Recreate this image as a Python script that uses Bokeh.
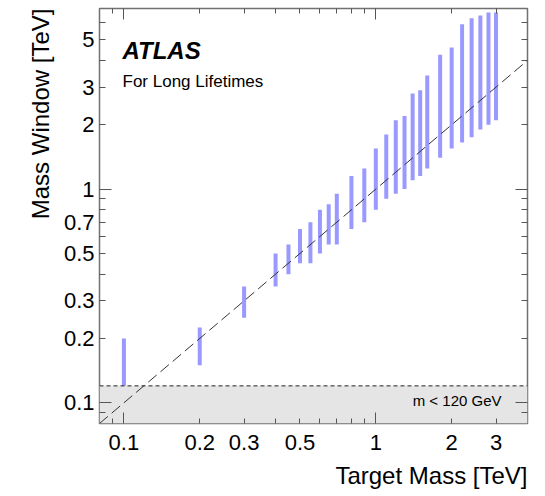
from bokeh.plotting import figure
from bokeh.models import (LogAxis, FixedTicker, CustomJSTickFormatter, Title, Label,
                          Span, BoxAnnotation, ColumnDataSource)
from bokeh.embed import file_html
from bokeh.resources import INLINE

# ---- data (TeV) ----
target_mass = [0.1, 0.2, 0.3, 0.4, 0.45, 0.5, 0.55, 0.6, 0.65, 0.7, 0.8, 0.9, 1.0,
               1.1, 1.2, 1.3, 1.4, 1.5, 1.6, 1.8, 2.0, 2.2, 2.4, 2.6, 2.8, 3.0]
window_low = [0.12, 0.15, 0.25, 0.35, 0.40, 0.45, 0.45, 0.50, 0.55, 0.55, 0.65, 0.70, 0.80,
              0.90, 0.95, 1.00, 1.10, 1.15, 1.25, 1.40, 1.55, 1.65, 1.75, 1.90, 2.00, 2.10]
window_high = [0.20, 0.225, 0.35, 0.50, 0.55, 0.65, 0.70, 0.80, 0.85, 0.95, 1.15, 1.25, 1.55,
               1.80, 2.10, 2.20, 2.80, 2.90, 3.40, 4.25, 4.60, 5.90, 6.30, 6.50, 6.70, 6.70]
diagonal = [0.08, 4.0]          # y = x reference line
low_mass_cut = 0.12             # m < 120 GeV

x_range = (0.08, 4.0)
y_range = (0.08, 7.0)

x_major = [0.1, 1.0]
x_minor = [0.09, 0.2, 0.3, 0.4, 0.5, 0.6, 0.7, 0.8, 0.9, 2.0, 3.0]
x_tick_labels = [0.1, 0.2, 0.3, 0.5, 1, 2, 3]
y_major = [0.1, 1.0]
y_minor = [0.09, 0.2, 0.3, 0.4, 0.5, 0.6, 0.7, 0.8, 0.9, 2.0, 3.0, 4.0, 5.0, 6.0]
y_tick_labels = [0.1, 0.2, 0.3, 0.5, 0.7, 1, 2, 3, 5]

FONT = "Liberation Sans"
TICK_COLOR = "#555555"

p = figure(width=545, height=496, x_axis_type="log", y_axis_type="log",
           x_range=x_range, y_range=y_range, x_axis_location=None, y_axis_location=None,
           output_backend="svg", toolbar_location=None,
           min_border_left=99, min_border_right=18, min_border_top=8, min_border_bottom=73)
p.grid.visible = False
p.outline_line_color = "#707070"
p.outline_line_width = 1.5
p.background_fill_color = "white"
p.border_fill_color = "white"


def tick_axis(major, minor, maj_len, min_len):
    return LogAxis(ticker=FixedTicker(ticks=major, minor_ticks=minor),
                   formatter=CustomJSTickFormatter(code="return ''"),
                   major_tick_in=maj_len, major_tick_out=0,
                   minor_tick_in=min_len, minor_tick_out=0,
                   axis_line_color=None,
                   major_tick_line_color=TICK_COLOR, minor_tick_line_color=TICK_COLOR,
                   major_label_standoff=0, major_label_text_font_size="1px")


def label_axis(labels, standoff):
    return LogAxis(ticker=FixedTicker(ticks=labels, minor_ticks=[]),
                   formatter=CustomJSTickFormatter(code="return tick.toString()"),
                   major_tick_in=0, major_tick_out=0, minor_tick_in=0, minor_tick_out=0,
                   axis_line_color=None, major_tick_line_color=None, minor_tick_line_color=None,
                   major_label_standoff=standoff, major_label_text_font=FONT,
                   major_label_text_font_size="22px", major_label_text_color="black")


p.add_layout(tick_axis(x_major, x_minor, 11, 5), "below")
p.add_layout(label_axis(x_tick_labels, 11), "below")
p.add_layout(Title(text="Target Mass [TeV]", align="right", text_font=FONT,
                   text_font_size="24px", text_font_style="normal", text_color="black",
                   standoff=14), "below")

p.add_layout(tick_axis(y_major, y_minor, 12, 6), "left")
p.add_layout(label_axis(y_tick_labels, 5), "left")
p.add_layout(Title(text="Mass Window [TeV]", align="right", text_font=FONT,
                   text_font_size="24px", text_font_style="normal", text_color="black",
                   standoff=14), "left")

p.add_layout(tick_axis(x_major, x_minor, 11, 5), "above")
p.add_layout(tick_axis(y_major, y_minor, 12, 6), "right")

# low-mass region
p.add_layout(BoxAnnotation(top=low_mass_cut, fill_color="#e5e5e5", fill_alpha=1.0,
                           line_color=None, level="underlay"))
p.add_layout(Span(location=low_mass_cut, dimension="width", line_color="#222222",
                  line_width=1, line_dash="4 3"))

src = ColumnDataSource(dict(x=target_mass, lo=window_low, hi=window_high))
p.segment(x0="x", y0="lo", x1="x", y1="hi", source=src, line_width=4,
          line_color="#9999ff", line_cap="butt")
p.line(diagonal, diagonal, line_color="#333333", line_width=1, line_dash="11 5")

p.add_layout(Label(x=23, y=373, x_units="screen", y_units="screen", text="ATLAS",
                   text_font=FONT, text_font_size="24px", text_font_style="bold italic",
                   text_baseline="alphabetic", text_color="black"))
p.add_layout(Label(x=23, y=342, x_units="screen", y_units="screen", text="For Long Lifetimes",
                   text_font=FONT, text_font_size="17px", text_baseline="alphabetic",
                   text_color="black"))
p.add_layout(Label(x=402, y=23, x_units="screen", y_units="screen", text="m < 120 GeV",
                   text_font=FONT, text_font_size="15px", text_align="right",
                   text_baseline="alphabetic", text_color="black"))

open("out.html", "w").write(file_html(p, INLINE))
